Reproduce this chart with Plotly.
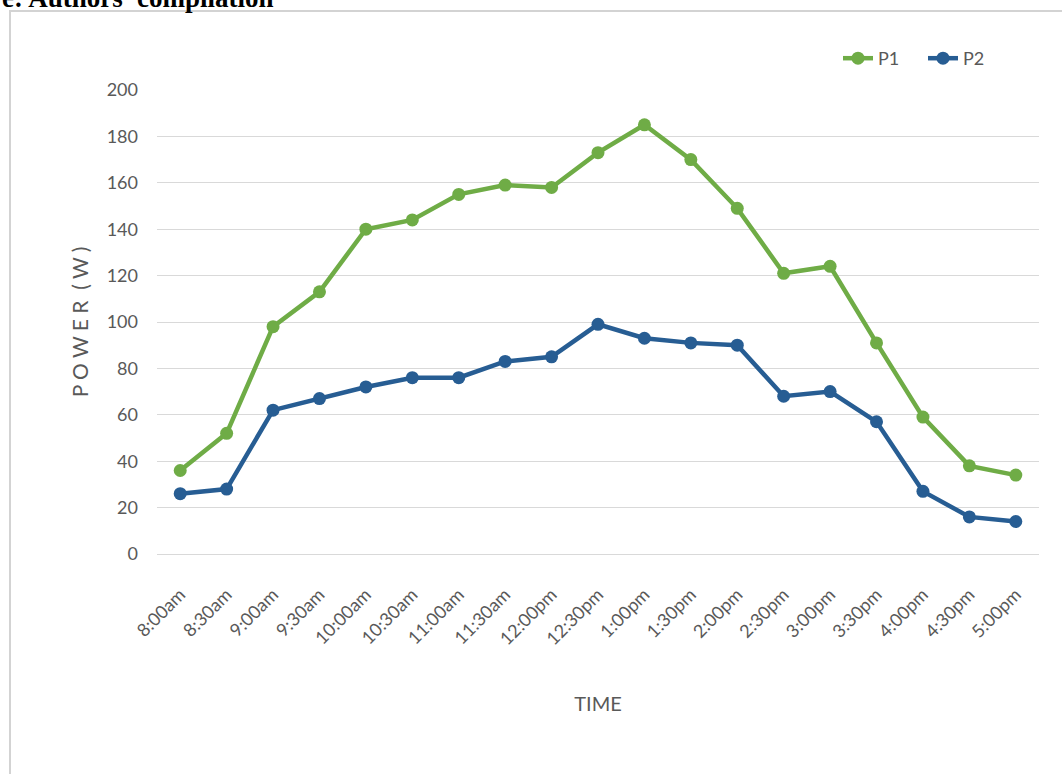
import plotly.graph_objects as go

# 19 half-hourly time points from 8:00am to 5:00pm
times = ["8:00am", "8:30am", "9:00am", "9:30am", "10:00am", "10:30am", "11:00am",
         "11:30am", "12:00pm", "12:30pm", "1:00pm", "1:30pm", "2:00pm", "2:30pm",
         "3:00pm", "3:30pm", "4:00pm", "4:30pm", "5:00pm"]
p1 = [36, 52, 98, 113, 140, 144, 155, 159, 158, 173, 185, 170, 149, 121, 124, 91, 59, 38, 34]
p2 = [26, 28, 62, 67, 72, 76, 76, 83, 85, 99, 93, 91, 90, 68, 70, 57, 27, 16, 14]
y_ticks = [0, 20, 40, 60, 80, 100, 120, 140, 160, 180, 200]

GREEN = "#6fac46"
BLUE = "#275d93"
TXT = "#595959"
FONT = "Lato, 'Liberation Sans Narrow', 'Open Sans', sans-serif"

fig = go.Figure()
fig.add_trace(go.Scatter(x=times, y=p1, name="P1", mode="lines+markers",
                         line=dict(color=GREEN, width=4.5),
                         marker=dict(color=GREEN, size=13)))
fig.add_trace(go.Scatter(x=times, y=p2, name="P2", mode="lines+markers",
                         line=dict(color=BLUE, width=4.5),
                         marker=dict(color=BLUE, size=13)))

W, H = 1062, 774
L, R, T, B = 157, 23, 90, 220
pw, ph = W - L - R, H - T - B

def px2x(px):
    return (px - L) / pw

def py2y(py):
    return 1 + (T - py) / ph

fig.update_layout(
    width=W, height=H,
    margin=dict(l=L, r=R, t=T, b=B, pad=0, autoexpand=False),
    paper_bgcolor="white", plot_bgcolor="white",
    font=dict(family=FONT, color=TXT, size=16),
    showlegend=True,
    legend=dict(orientation="h", x=px2x(838), y=py2y(40), xanchor="left", yanchor="top",
                font=dict(size=18, color=TXT), bgcolor="rgba(0,0,0,0)",
                entrywidth=40, entrywidthmode="pixels", tracegroupgap=0),
    xaxis=dict(type="category", categoryorder="array", categoryarray=times,
               range=[-0.5, len(times) - 0.5], tickangle=-45, showgrid=False,
               showline=True, linecolor="#d9d9d9", linewidth=1, ticks="",
               tickfont=dict(size=18, color=TXT), ticklabelstandoff=22,
               automargin=False,
               title=dict(text="TIME", font=dict(size=20, color=TXT), standoff=48)),
    yaxis=dict(range=[0, 200], tickvals=y_ticks, showgrid=True, gridcolor="#d9d9d9",
               gridwidth=1, zeroline=False, showline=False, ticks="",
               tickfont=dict(size=18, color=TXT), ticklabelstandoff=18,
               automargin=False,
               title=dict(text="P O W E R  ( W )", font=dict(size=21, color=TXT), standoff=12)),
    shapes=[dict(type="rect", xref="paper", yref="paper",
                 x0=px2x(10), x1=px2x(1100), y0=py2y(820), y1=py2y(11),
                 line=dict(color="#d3d3d3", width=2), layer="below")],
    annotations=[dict(text="<b>e: Authors' compilation</b>", xref="paper", yref="paper",
                      x=px2x(0), y=py2y(15), xanchor="left", yanchor="bottom",
                      showarrow=False,
                      font=dict(family="'Liberation Serif', 'Times New Roman', serif",
                                size=27, color="black"))],
)

fig.write_html("out.html")
